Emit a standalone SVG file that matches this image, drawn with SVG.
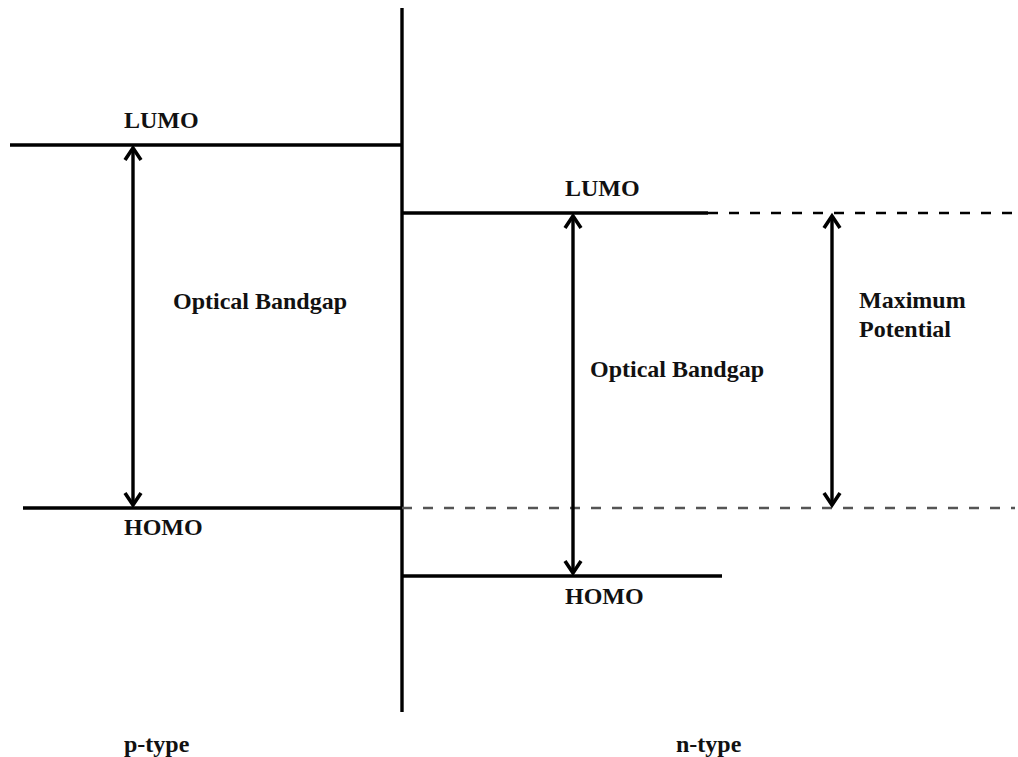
<svg xmlns="http://www.w3.org/2000/svg" width="1018" height="757" viewBox="0 0 1018 757">
<style>
.t{font-family:"Liberation Serif","Times New Roman",serif;font-weight:bold;font-size:24px;fill:#111}
.lv{stroke:#000;stroke-width:3.4;fill:none}
.ar{stroke:#000;stroke-width:3.4;fill:none}
</style>
<defs>
<marker id="ah" viewBox="0 0 20 20" refX="16" refY="10" markerWidth="20" markerHeight="20" markerUnits="userSpaceOnUse" orient="auto-start-reverse">
<path d="M4,2 L16,10 L4,18" fill="none" stroke="#000" stroke-width="3.6"/>
</marker>
</defs>
<rect width="1018" height="757" fill="#fff"/>
<g id="interface"><line class="lv" x1="402" y1="8" x2="402" y2="712"/></g>
<g id="p-lumo"><line class="lv" x1="10" y1="145" x2="402" y2="145"/><text class="t" x="124" y="128">LUMO</text></g>
<g id="p-homo"><line class="lv" x1="23" y1="508" x2="402" y2="508"/><text class="t" x="124" y="535">HOMO</text></g>
<g id="n-lumo"><line class="lv" x1="402" y1="213" x2="708" y2="213"/><text class="t" x="565" y="196">LUMO</text></g>
<g id="n-homo"><line class="lv" x1="402" y1="576" x2="722" y2="576"/><text class="t" x="565" y="604">HOMO</text></g>
<g id="labels">
<text class="t" x="173" y="309">Optical Bandgap</text>
<text class="t" x="590" y="377">Optical Bandgap</text>
<text class="t" x="859" y="308">Maximum</text>
<text class="t" x="859" y="337">Potential</text>
<text class="t" x="124" y="752">p-type</text>
<text class="t" x="676" y="752">n-type</text>
</g>
<g id="connectors">
<line x1="708" y1="213" x2="1015" y2="213" stroke="#000" stroke-width="2.6" stroke-dasharray="10,11"/>
<line x1="402" y1="508" x2="1015" y2="508" stroke="#555" stroke-width="2.6" stroke-dasharray="10,11"/>
<line class="ar" x1="133" y1="148" x2="133" y2="505" marker-start="url(#ah)" marker-end="url(#ah)"/>
<line class="ar" x1="573" y1="216" x2="573" y2="573" marker-start="url(#ah)" marker-end="url(#ah)"/>
<line class="ar" x1="832" y1="216" x2="832" y2="505" marker-start="url(#ah)" marker-end="url(#ah)"/>
</g>
</svg>
